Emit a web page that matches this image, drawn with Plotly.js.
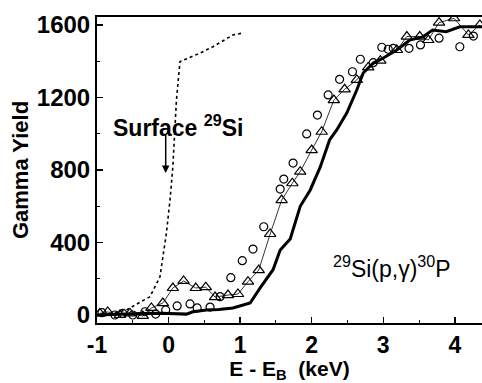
<!DOCTYPE html>
<html>
<head>
<meta charset="utf-8">
<script src="https://cdn.plot.ly/plotly-3.0.1.min.js"></script>
<style>html,body{margin:0;padding:0;background:#fff;}#chart{width:482px;height:383px;}</style>
</head>
<body>
<div id="chart"></div>
<script>
// Surface 29Si (dotted)
const surfX = [-1.0, -0.8, -0.59, -0.45, -0.26, -0.12, -0.03, 0.02, 0.06, 0.11, 0.16, 0.44, 0.62, 0.90, 1.04];
const surfY = [0, 8, 28, 60, 101, 211, 452, 634, 817, 1186, 1398, 1445, 1480, 1545, 1556];

// thick solid curve
const thickX = [-1.0, -0.7, -0.4, -0.1, 0.1, 0.25, 0.34, 0.53, 0.7, 0.9, 1.14, 1.28, 1.46, 1.56, 1.70, 1.84, 1.98, 2.12, 2.25, 2.35, 2.49, 2.63, 2.72, 2.86, 3.0, 3.19, 3.37, 3.55, 3.69, 3.88, 4.07, 4.38];
const thickY = [0, 5, 8, 10, 8, 5, 18, 28, 30, 39, 66, 150, 250, 359, 420, 600, 690, 817, 966, 1021, 1114, 1241, 1335, 1390, 1418, 1462, 1517, 1534, 1572, 1563, 1590, 1590];

// triangles with thin line
const triX = [-0.96, -0.85, -0.68, -0.54, -0.36, -0.24, -0.08, 0.06, 0.21, 0.38, 0.52, 0.65, 0.83, 0.97, 1.11, 1.26, 1.42, 1.58, 1.73, 1.84, 2.0, 2.14, 2.31, 2.46, 2.63, 2.79, 2.96, 3.19, 3.33, 3.51, 3.63, 3.78, 3.99, 4.19, 4.35];
const triY = [9, 17, 0, 9, -5, 39, 66, 149, 188, 149, 154, 99, 110, 116, 184, 248, 447, 634, 727, 791, 910, 1011, 1186, 1245, 1297, 1366, 1403, 1462, 1536, 1536, 1517, 1613, 1637, 1545, 1600];

// circles
const circX = [-0.93, -0.75, -0.64, -0.50, -0.33, -0.18, -0.04, 0.12, 0.30, 0.40, 0.58, 0.72, 0.87, 1.03, 1.18, 1.33, 1.56, 1.61, 1.74, 1.93, 2.08, 2.23, 2.39, 2.57, 2.68, 2.86, 2.98, 3.07, 3.14, 3.36, 3.52, 3.78, 4.07, 4.26];
const circY = [13, 0, 9, 0, 18, 5, 28, 50, 61, 39, 44, 101, 206, 300, 364, 487, 695, 750, 838, 999, 1103, 1214, 1300, 1342, 1411, 1392, 1477, 1466, 1471, 1471, 1490, 1527, 1480, 1539];

const xTicks = [-1, 0, 1, 2, 3, 4];
const yTicks = [0, 400, 800, 1200, 1600];

const FONT = "Liberation Sans, Arial, Helvetica, sans-serif";

const traces = [
  {x: surfX, y: surfY, mode: 'lines', line: {color: '#000', width: 1.6, dash: 'dot'}, hoverinfo: 'skip'},
  {x: thickX, y: thickY, mode: 'lines', line: {color: '#000', width: 3}, hoverinfo: 'skip'},
  {x: triX, y: triY, mode: 'lines+markers', line: {color: '#000', width: 0.8},
   marker: {symbol: 'triangle-up-open', size: 10, color: '#000', line: {width: 1.2}}, hoverinfo: 'skip'},
  {x: circX, y: circY, mode: 'markers',
   marker: {symbol: 'circle-open', size: 8, color: '#000', line: {width: 1.2}}, hoverinfo: 'skip'}
];

const layout = {
  width: 482, height: 383,
  margin: {l: 97, r: 0, t: 17, b: 60},
  paper_bgcolor: '#fff', plot_bgcolor: '#fff',
  showlegend: false,
  font: {family: FONT, color: '#000'},
  xaxis: {
    range: [-1, 4.38], tickvals: xTicks, ticktext: xTicks.map(String),
    ticks: 'inside', ticklen: 6, tickwidth: 1.5, tickcolor: '#000',
    minor: {ticks: 'inside', dtick: 0.5, tick0: 0, ticklen: 3, tickwidth: 1, tickcolor: '#000'},
    showline: true, linewidth: 2, linecolor: '#000', mirror: true,
    showgrid: false, zeroline: false,
    tickfont: {size: 23, family: FONT, weight: 'bold'},
    title: {text: 'E - E<sub>B</sub>  (keV)', font: {size: 21, family: FONT, weight: 'bold'}, standoff: 3}
  },
  yaxis: {
    range: [-44, 1644], tickvals: yTicks, ticktext: yTicks.map(String),
    ticks: 'inside', ticklen: 6, tickwidth: 1.5, tickcolor: '#000',
    minor: {ticks: 'inside', dtick: 200, tick0: 0, ticklen: 3, tickwidth: 1, tickcolor: '#000'},
    showline: true, linewidth: 2, linecolor: '#000', mirror: false,
    showgrid: false, zeroline: false,
    tickfont: {size: 24, family: FONT, weight: 'bold'},
    title: {text: 'Gamma Yield', font: {size: 22, family: FONT, weight: 'bold'}, standoff: 2}
  },
  annotations: [
    {x: 0.13, y: 1045, xref: 'x', yref: 'y', text: 'Surface <sup>29</sup>Si', showarrow: false,
     font: {size: 23, family: FONT, weight: 'bold', color: '#000'}},
    {x: -0.04, y: 783, xref: 'x', yref: 'y', ax: 0, ay: -40, text: '', showarrow: true,
     arrowhead: 2, arrowsize: 1, arrowwidth: 1.5, arrowcolor: '#000'},
    {x: 3.12, y: 265, xref: 'x', yref: 'y', text: '<sup>29</sup>Si(p,γ)<sup>30</sup>P', showarrow: false,
     font: {size: 23, family: FONT, color: '#000'}}
  ]
};

Plotly.newPlot('chart', traces, layout, {displayModeBar: false, staticPlot: true});
</script>
</body>
</html>
